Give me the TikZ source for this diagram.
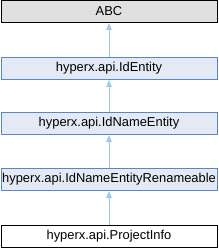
\documentclass[tikz,border=0pt]{standalone}
\usepackage{fontspec}
\setmainfont{Liberation Sans}
\usetikzlibrary{arrows.meta}
\definecolor{edgeblue}{HTML}{9CC9E8}
\definecolor{boxborder}{HTML}{5A85C6}
\definecolor{boxfill}{HTML}{E4EAF5}
\definecolor{abcfill}{HTML}{E0E0E0}
\begin{document}
\begin{tikzpicture}[x=1pt,y=1pt,
  cls/.style={draw=boxborder, fill=boxfill, line width=1pt, minimum width=216pt, minimum height=22pt, inner sep=0pt, font=\fontsize{12.9}{14}\selectfont},
  ext/.style={cls, draw=black, fill=abcfill},
  cur/.style={cls, draw=black, fill=white},
  inh/.style={draw=edgeblue, line width=1pt, -{Triangle[length=7pt,width=5.5pt]}}]
\useasboundingbox (0,0) rectangle (218,-248);
\node[ext] (abc) at (109,-11.5) {ABC};
\node[cls] (ide) at (109,-68.5) {hyperx.api.IdEntity};
\node[cls] (idn) at (109,-123.5) {hyperx.api.IdNameEntity};
\node[cls] (idr) at (109,-179.5) {hyperx.api.IdNameEntityRenameable};
\node[cur] (pin) at (109,-236.5) {hyperx.api.ProjectInfo};
\draw[inh] (ide.north) -- (abc.south);
\draw[inh] (idn.north) -- (ide.south);
\draw[inh] (idr.north) -- (idn.south);
\draw[inh] (pin.north) -- (idr.south);
\end{tikzpicture}
\end{document}
